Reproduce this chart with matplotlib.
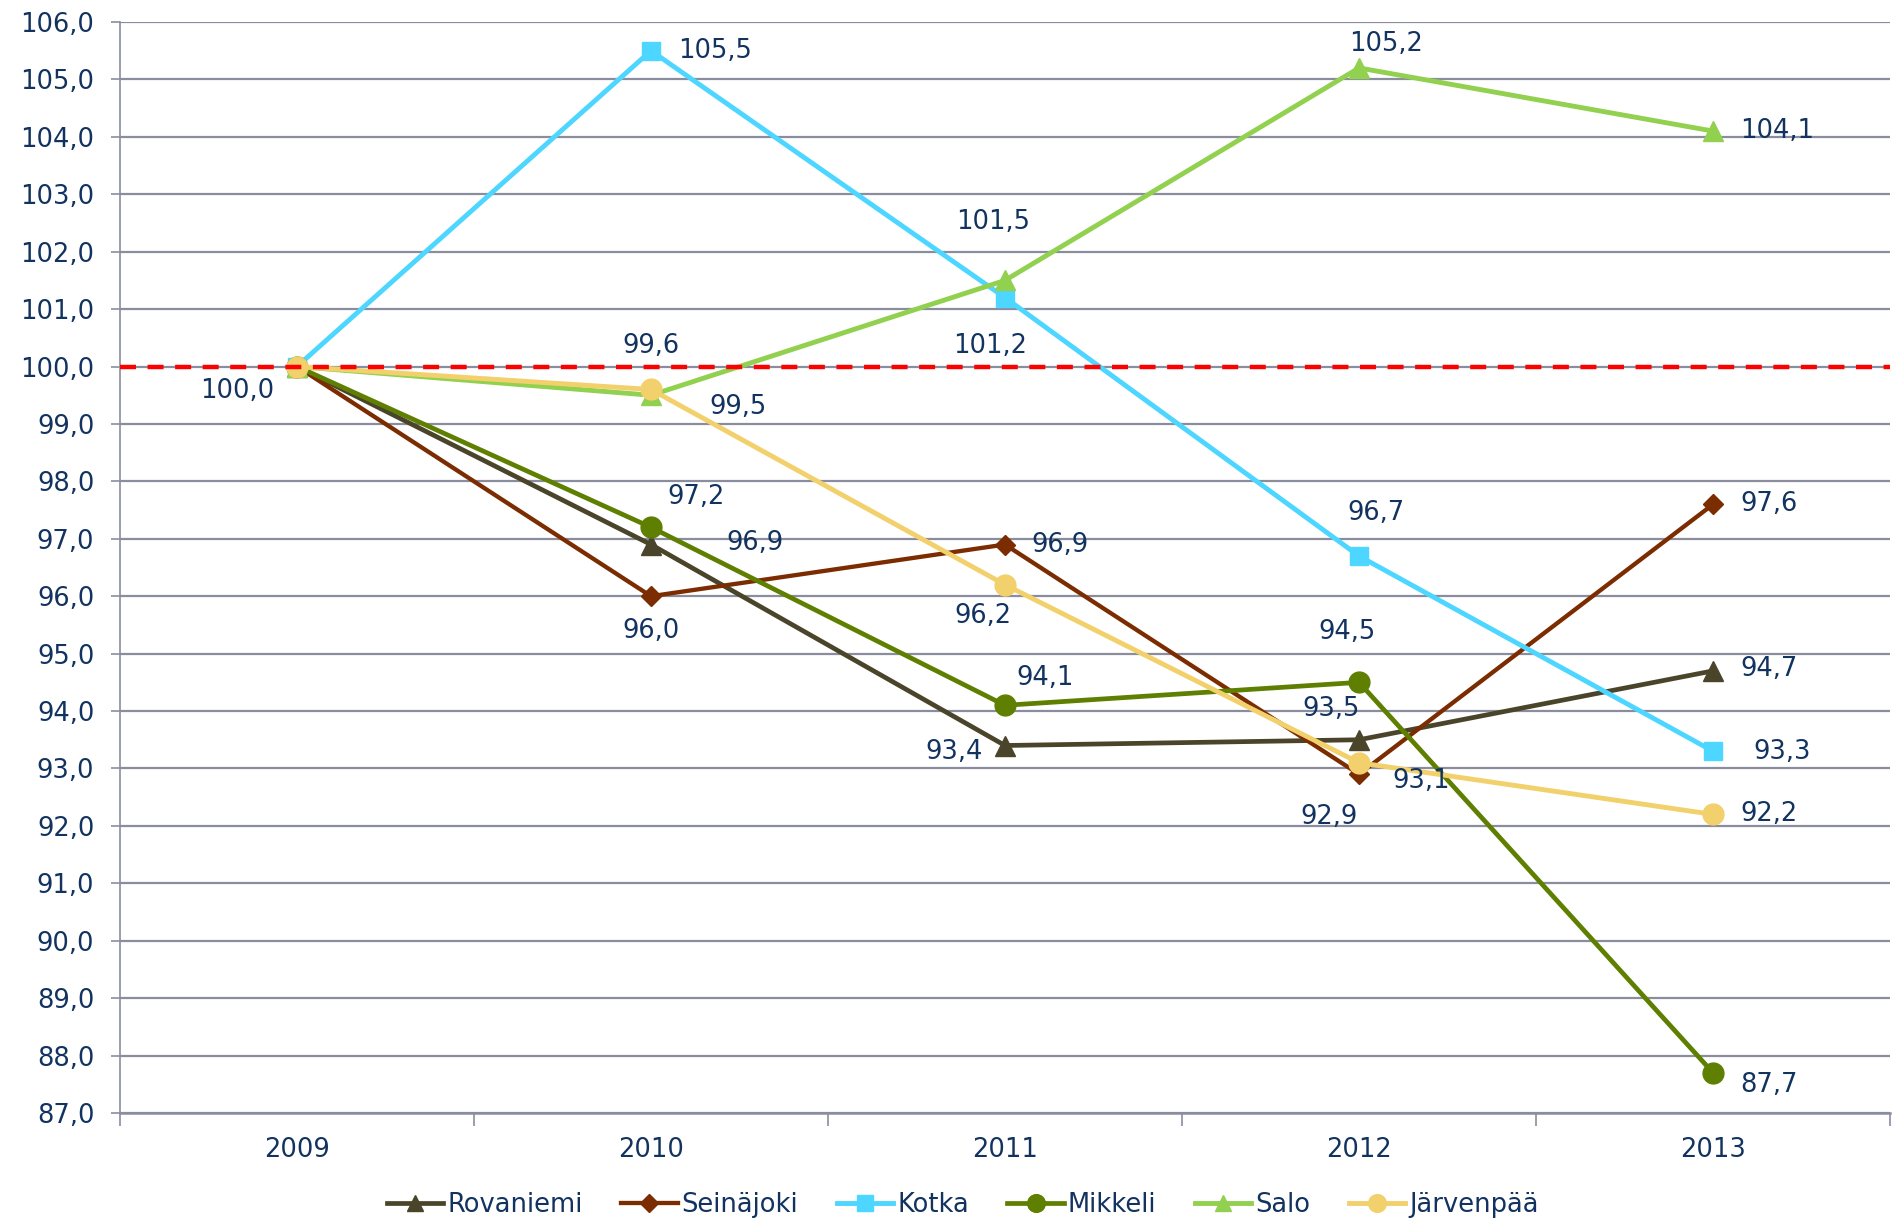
import matplotlib
matplotlib.use("Agg")

import matplotlib.pyplot as plt
import numpy as np

years = ["2009", "2010", "2011", "2012", "2013"]

rovaniemi = [100.0, 96.9, 93.4, 93.5, 94.7]
seinajoki = [100.0, 96.0, 96.9, 92.9, 97.6]
kotka = [100.0, 105.5, 101.2, 96.7, 93.3]
mikkeli = [100.0, 97.2, 94.1, 94.5, 87.7]
salo = [100.0, 99.5, 101.5, 105.2, 104.1]
jarvenpaa = [100.0, 99.6, 96.2, 93.1, 92.2]

names = ["Rovaniemi", "Seinäjoki", "Kotka", "Mikkeli", "Salo", "Järvenpää"]

tc = "#12335F"
gc = "#8A8D9E"
fs = 18.5

# name, values, colour, marker, marker size, line width
st = [
    ("Rovaniemi", rovaniemi, "#4A452A", "^", 14, 3.4),
    ("Seinäjoki", seinajoki, "#7B2C00", "D", 10.5, 3.1),
    ("Kotka", kotka, "#4DD6FF", "s", 13, 3.5),
    ("Mikkeli", mikkeli, "#5E7F00", "o", 15, 3.4),
    ("Salo", salo, "#92D050", "^", 14, 3.5),
    ("Järvenpää", jarvenpaa, "#F2D06B", "o", 15, 3.5),
]

# label offsets in pixels (dx, dy) and horizontal alignment, per series and year
lo = {
    "Rovaniemi": [None, (104, 2, "center"), (-22, -6, "right"), (-28, 31, "center"), (27, 2, "left")],
    "Seinäjoki": [None, (0, -35, "center"), (26, 0, "left"), (-30, -43, "center"), (27, 0, "left")],
    "Kotka": [(-60, -24, "center"), (27, 0, "left"), (-15, -48, "center"), (17, 43, "center"), (40, -1, "left")],
    "Mikkeli": [None, (45, 30, "center"), (40, 27, "center"), (-12, 50, "center"), (27, -12, "left")],
    "Salo": [None, (87, -12, "center"), (-12, 58, "center"), (27, 24, "center"), (27, 0, "left")],
    "Järvenpää": [None, (0, 43, "center"), (-22, -31, "center"), (62, -18, "center"), (27, 0, "left")],
}

fig = plt.figure(figsize=(18.95, 12.22), dpi=100)
ax = fig.add_axes([0.0633, 0.0892, 0.9341, 0.8928])

x = np.arange(len(years))

for nm, v, c, mk, ms, lw in st:
    ax.plot(x, v, color=c, lw=lw, marker=mk, ms=ms, mec=c, mfc=c, label=nm, zorder=3)
    for i, val in enumerate(v):
        o = lo[nm][i]
        if o is None:
            continue
        ax.annotate(f"{val:.1f}".replace(".", ","), (x[i], val), xytext=(o[0], o[1]),
                    textcoords="offset pixels", ha=o[2], va="center",
                    fontsize=fs, color=tc, zorder=5)

ax.axhline(100, color="#FF0000", lw=3.2, ls=(0, (3.6, 2.6)), zorder=4)

ax.set_xlim(-0.5, 4.5)
ax.set_ylim(87, 106)
ax.set_yticks(np.arange(87, 107, 1))
ax.set_yticklabels([f"{t:.1f}".replace(".", ",") for t in np.arange(87, 107, 1)])
ax.yaxis.grid(True, color=gc, lw=1.6)
ax.set_axisbelow(True)

ax.set_xticks(x)
ax.set_xticklabels(years)
ax.set_xticks(np.arange(-0.5, 5.0, 1), minor=True)
ax.tick_params(axis="x", which="major", length=0, pad=17, labelsize=fs, labelcolor=tc)
ax.tick_params(axis="x", which="minor", length=9, width=1.2, color=gc)
ax.tick_params(axis="y", length=6.5, width=1.2, color=gc, labelsize=fs, labelcolor=tc, pad=12)

for s in ["top", "right"]:
    ax.spines[s].set_visible(False)
ax.spines["left"].set_color(gc)
ax.spines["left"].set_linewidth(1.2)
ax.spines["bottom"].set_color(gc)
ax.spines["bottom"].set_linewidth(1.8)

lg = fig.legend(loc="center", bbox_to_anchor=(0.508, 0.0139), ncol=6, frameon=False,
                fontsize=fs, handlelength=2.2, handletextpad=0.15, columnspacing=1.5,
                markerscale=0.85)
for t in lg.get_texts():
    t.set_color(tc)

fig.savefig("out.png", dpi=100)
